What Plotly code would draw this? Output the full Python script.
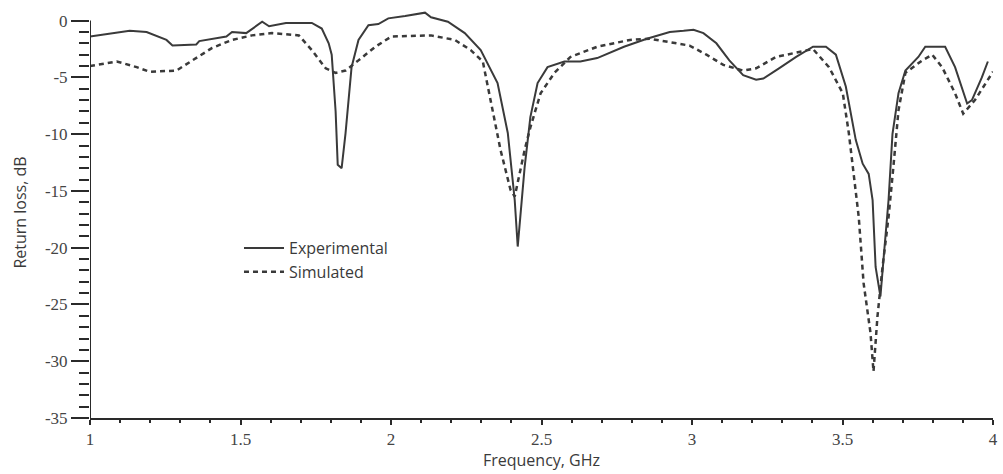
import plotly.graph_objects as go

# Experimental (solid)
exp_f = [1.0, 1.076, 1.132, 1.188, 1.254, 1.274, 1.353, 1.363, 1.453, 1.472, 1.519, 1.572, 1.595, 1.651,
         1.737, 1.770, 1.793, 1.803, 1.809, 1.816, 1.823, 1.836, 1.849, 1.869, 1.892, 1.925, 1.958, 1.991,
         2.047, 2.113, 2.133, 2.189, 2.245, 2.298, 2.354, 2.388, 2.411, 2.421, 2.444, 2.463, 2.487, 2.520,
         2.576, 2.629, 2.685, 2.774, 2.850, 2.926, 2.972, 3.005, 3.038, 3.081, 3.124, 3.170, 3.213, 3.237,
         3.289, 3.346, 3.402, 3.445, 3.478, 3.511, 3.544, 3.567, 3.587, 3.600, 3.610, 3.626, 3.636, 3.653,
         3.666, 3.686, 3.709, 3.752, 3.775, 3.841, 3.874, 3.914, 3.930, 3.963, 3.983]
exp_db = [-1.4, -1.1, -0.9, -1.0, -1.7, -2.2, -2.1, -1.8, -1.4, -1.0, -1.1, -0.1, -0.5, -0.2,
          -0.2, -0.7, -2.0, -3.0, -5.5, -8.0, -12.7, -13.0, -9.9, -4.1, -1.7, -0.4, -0.3, 0.2,
          0.4, 0.7, 0.3, -0.1, -1.1, -2.6, -5.5, -9.9, -15.8, -19.9, -12.9, -8.5, -5.5, -4.1,
          -3.6, -3.6, -3.3, -2.3, -1.6, -1.0, -0.9, -0.8, -1.1, -2.0, -3.5, -4.8, -5.2, -5.1,
          -4.2, -3.2, -2.3, -2.3, -3.0, -5.8, -10.5, -12.6, -13.5, -15.8, -21.7, -24.3, -21.1, -15.8,
          -10.0, -6.4, -4.4, -3.2, -2.3, -2.3, -4.1, -7.3, -7.0, -5.0, -3.6]

# Simulated (dashed)
sim_f = [1.0, 1.089, 1.155, 1.198, 1.287, 1.340, 1.406, 1.472, 1.538, 1.605, 1.694, 1.737, 1.783, 1.816,
         1.849, 1.892, 1.948, 2.001, 2.133, 2.212, 2.265, 2.305, 2.331, 2.364, 2.397, 2.411, 2.444, 2.463,
         2.497, 2.543, 2.596, 2.685, 2.794, 2.860, 2.926, 2.992, 3.048, 3.104, 3.170, 3.213, 3.279, 3.346,
         3.402, 3.455, 3.501, 3.521, 3.544, 3.554, 3.570, 3.593, 3.603, 3.616, 3.633, 3.653, 3.669, 3.686,
         3.709, 3.765, 3.798, 3.831, 3.874, 3.901, 3.940, 4.0]
sim_db = [-4.0, -3.6, -4.1, -4.5, -4.4, -3.5, -2.4, -1.7, -1.3, -1.1, -1.3, -2.6, -4.2, -4.6,
          -4.4, -3.5, -2.3, -1.4, -1.3, -1.7, -2.6, -3.6, -7.0, -11.4, -14.9, -15.5, -11.4, -9.4,
          -6.4, -4.6, -3.2, -2.3, -1.7, -1.6, -1.9, -2.2, -3.0, -3.9, -4.4, -4.2, -3.2, -2.8,
          -2.5, -4.1, -6.4, -9.9, -15.2, -17.3, -23.1, -27.5, -30.9, -26.1, -21.7, -17.3, -12.9, -7.9,
          -4.6, -3.5, -3.0, -4.1, -6.4, -8.2, -7.0, -4.5]

x_ticks = [1, 1.5, 2, 2.5, 3, 3.5, 4]
x_labels = ["1", "1.5", "2", "2.5", "3", "3.5", "4"]
y_ticks = [-35, -30, -25, -20, -15, -10, -5, 0]
y_labels = ["-35", "-30", "-25", "-20", "-15", "-10", "-5", "0"]
y_minor = list(range(-35, 1))
x_minor = [round(1 + 0.1 * i, 1) for i in range(31)]

fig = go.Figure()
fig.add_trace(go.Scatter(x=exp_f, y=exp_db, mode="lines", name="Experimental",
                         line=dict(color="#3a3a3a", width=2)))
fig.add_trace(go.Scatter(x=sim_f, y=sim_db, mode="lines", name="Simulated",
                         line=dict(color="#3a3a3a", width=2.5, dash="5px,4px")))

axis_col = "#2a2a2a"
tick_font = dict(family="Liberation Serif, Times New Roman, serif", size=17, color="#444")
title_font = dict(family="Open Sans, sans-serif", size=16, color="#3a3a3a")

# y axis line only up to 0 dB
fig.add_shape(type="line", xref="x", yref="y", x0=1, x1=1, y0=-35, y1=0,
              line=dict(color=axis_col, width=2))

fig.update_layout(
    width=1003, height=474,
    margin=dict(l=90, r=5, t=7, b=56),
    paper_bgcolor="white", plot_bgcolor="white",
    showlegend=True,
    legend=dict(x=0.165, y=0.455, xanchor="left", yanchor="top",
                font=dict(family="Open Sans, sans-serif", size=16, color="#3a3a3a"),
                bgcolor="rgba(0,0,0,0)", tracegroupgap=0, itemwidth=40),
    xaxis=dict(range=[1, 4], tickvals=x_ticks, ticktext=x_labels, tickfont=tick_font,
               showgrid=False, zeroline=False, showline=True, linecolor=axis_col, linewidth=2,
               ticks="outside", ticklen=5, tickwidth=1.5, tickcolor=axis_col,
               minor=dict(tickvals=x_minor, ticks="outside", ticklen=3, tickwidth=1.5, tickcolor=axis_col),
               title=dict(text="Frequency, GHz", font=title_font, standoff=2)),
    yaxis=dict(range=[-35, 1.2], tickvals=y_ticks, ticktext=y_labels, tickfont=tick_font,
               showgrid=False, zeroline=False, showline=False,
               ticks="outside", ticklen=18, tickwidth=1.5, tickcolor=axis_col,
               minor=dict(tickvals=y_minor, ticks="outside", ticklen=10, tickwidth=1.5, tickcolor=axis_col),
               title=dict(text="Return loss, dB", font=title_font, standoff=14)),
)

fig.write_html("out.html")
